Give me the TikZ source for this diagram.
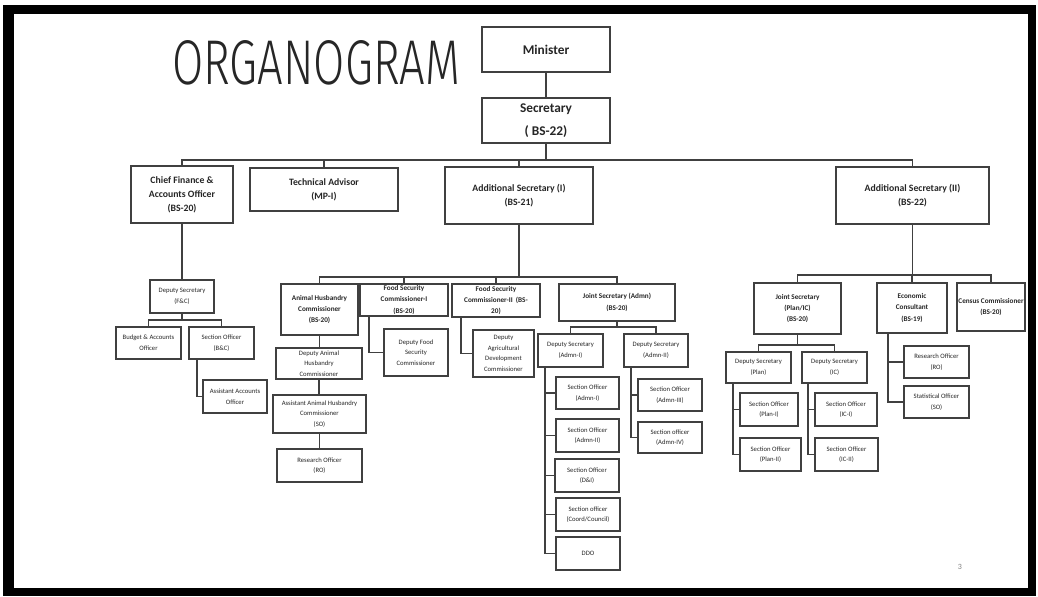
\documentclass[tikz,border=0pt]{standalone}
\usepackage{fontspec}
\setmainfont{Carlito}
\newfontfamily\titlefont{Fira Sans Light}
\usetikzlibrary{calc}
\newcommand\bx[7]{%
  \pgfmathsetmacro\bxw{(#4-#2)*0.75}%
  \pgfmathsetmacro\bxh{(#5-#3)*0.75}%
  \node[#6, minimum width=\bxw pt, minimum height=\bxh pt] (#1) at ({(#2+#4)/2},{(#3+#5)/2}) {#7};}
\begin{document}
\begin{tikzpicture}[x=0.75pt,y=-0.75pt,
  box/.style={draw=black!75, line width=1.1pt, fill=white, inner sep=0pt, outer sep=0pt, align=center, text=black!85},
  l1/.style={box, font=\fontsize{10}{17}\selectfont\bfseries},
  l2/.style={box, font=\fontsize{7.3}{10.5}\selectfont\bfseries},
  l3/.style={box, font=\fontsize{5.4}{8.5}\selectfont\bfseries},
  l4/.style={box, font=\fontsize{5}{8}\selectfont},
  con/.style={draw=black!75, line width=1.1pt}]
% frame
\fill[white] (0,0) rectangle (1038,596);
\fill[black] (3,5) rectangle (1036,596);
\fill[white] (14,14) rectangle (1028,588);
\useasboundingbox (0,0) rectangle (1038,596);
% title
\node[anchor=base west, inner sep=0pt, text=black!85] (title) at (172,84)
  {\resizebox{216pt}{33pt}{\titlefont\fontsize{40}{40}\selectfont ORGANOGRAM}};
% top
\bx{min}{482}{27}{610}{72}{l1}{Minister}
\bx{sec}{482}{98}{610}{143}{l1}{Secretary\\( BS-22)}
\bx{cfao}{131}{166}{233}{223}{l2}{Chief Finance \&\\Accounts Officer\\(BS-20)}
\bx{ta}{250}{168}{398}{211}{l2}{Technical Advisor\\(MP-I)}
\bx{as1}{445}{167}{593}{224}{l2}{Additional Secretary (I)\\(BS-21)}
\bx{as2}{836}{167}{989}{224}{l2}{Additional Secretary (II)\\(BS-22)}
% finance branch
\bx{dsfc}{150}{280}{214}{313}{l4}{Deputy Secretary\\(F\&C)}
\bx{bao}{116}{327}{181}{359}{l4}{Budget \& Accounts\\Officer}
\bx{sobc}{189}{327}{254}{359}{l4}{Section Officer\\(B\&C)}
\bx{aao}{203}{380}{267}{413}{l4}{Assistant Accounts\\Officer}
% AS(I) branch
\bx{ahc}{281}{284}{358}{335}{l3}{Animal Husbandry\\Commissioner\\(BS-20)}
\bx{dahc}{276}{348}{362}{379}{l4}{Deputy Animal\\Husbandry\\Commissioner}
\bx{aahc}{273}{395}{366}{433}{l4}{Assistant Animal Husbandry\\Commissioner\\(SO)}
\bx{ro1}{277}{449}{362}{482}{l4}{Research Officer\\(RO)}
\bx{fsc1}{360}{284}{448}{316}{l3}{Food Security\\Commissioner-I\\(BS-20)}
\bx{dfsc}{384}{329}{448}{376}{l4}{Deputy Food\\Security\\Commissioner}
\bx{fsc2}{452}{284}{540}{317}{l3}{Food Security\\Commissioner-II \ (BS-\\20)}
\bx{dadc}{473}{330}{534}{377}{l4}{Deputy\\Agricultural\\Development\\Commissioner}
\bx{jsa}{559}{284}{675}{321}{l3}{Joint Secretary (Admn)\\(BS-20)}
\bx{dsa1}{538}{334}{603}{367}{l4}{Deputy Secretary\\(Admn-I)}
\bx{dsa2}{624}{334}{688}{367}{l4}{Deputy Secretary\\(Admn-II)}
\bx{soa1}{556}{377}{619}{409}{l4}{Section Officer\\(Admn-I)}
\bx{soa2}{556}{419}{619}{452}{l4}{Section Officer\\(Admn-II)}
\bx{soa5}{555}{459}{619}{492}{l4}{Section Officer\\(D\&I)}
\bx{soa6}{556}{498}{620}{531}{l4}{Section officer\\(Coord/Council)}
\bx{ddo}{556}{537}{620}{570}{l4}{DDO}
\bx{soa3}{638}{379}{702}{411}{l4}{Section Officer\\(Admn-III)}
\bx{soa4}{638}{422}{702}{453}{l4}{Section officer\\(Admn-IV)}
% AS(II) branch
\bx{jsp}{754}{283}{841}{334}{l3}{Joint Secretary\\(Plan/IC)\\(BS-20)}
\bx{ec}{877}{283}{947}{333}{l3}{Economic\\Consultant\\(BS-19)}
\bx{cen}{957}{283}{1025}{331}{l3}{Census Commissioner\\(BS-20)}
\bx{dsp}{726}{352}{791}{383}{l4}{Deputy Secretary\\(Plan)}
\bx{dsic}{802}{352}{867}{383}{l4}{Deputy Secretary\\(IC)}
\bx{sop1}{740}{393}{798}{426}{l4}{Section Officer\\(Plan-I)}
\bx{sop2}{740}{438}{801}{471}{l4}{Section Officer\\(Plan-II)}
\bx{soic1}{815}{393}{877}{426}{l4}{Section Officer\\(IC-I)}
\bx{soic2}{815}{438}{878}{471}{l4}{Section Officer\\(IC-II)}
\bx{reo}{904}{346}{969}{378}{l4}{Research Officer\\(RO)}
\bx{sto}{904}{386}{969}{418}{l4}{Statistical Officer\\(SO)}
% page number
\node[font=\fontsize{6}{6}\selectfont, text=black!50, inner sep=0pt] (pg) at (960,567) {3};
% connectors
\coordinate (b1) at (0,160);
\coordinate (b2) at (0,320);
\coordinate (b3) at (0,277);
\coordinate (b4) at (0,327);
\coordinate (b5) at (0,275);
\coordinate (b6) at (0,345);
\draw[con] (min.south) -- (min.south |- sec.north);
\draw[con] (sec.south) -- (sec.south |- b1);
\draw[con] (cfao.north) |- (b1 -| as2.north) -- (as2.north);
\draw[con] (ta.north) -- (ta.north |- b1);
\draw[con] (as1.north) -- (as1.north |- b1);
\draw[con] (cfao.south) -- (cfao.south |- dsfc.north);
\draw[con] (dsfc.south) -- (dsfc.south |- b2);
\draw[con] (bao.north) |- (b2 -| sobc.north) -- (sobc.north);
\draw[con] ($(sobc.south west)+(8,0)$) |- (aao.west);
\draw[con] (as1.south) -- (as1.south |- b3);
\draw[con] (ahc.north) |- (b3 -| jsa.north) -- (jsa.north);
\draw[con] (fsc1.north) -- (fsc1.north |- b3);
\draw[con] (fsc2.north) -- (fsc2.north |- b3);
\draw[con] (ahc.south) -- (ahc.south |- dahc.north);
\draw[con] (dahc.south) -- (dahc.south |- aahc.north);
\draw[con] (aahc.south) -- (aahc.south |- ro1.north);
\draw[con] ($(fsc1.south west)+(9,0)$) |- (dfsc.west);
\draw[con] ($(fsc2.south west)+(9,0)$) |- (dadc.west);
\draw[con] (jsa.south) -- (jsa.south |- b4);
\draw[con] (dsa1.north) |- (b4 -| dsa2.north) -- (dsa2.north);
\foreach \c in {soa1,soa2,soa5,soa6,ddo}
  \draw[con] ($(dsa1.south west)+(7,0)$) |- (\c.west);
\foreach \c in {soa3,soa4}
  \draw[con] ($(dsa2.south west)+(7,0)$) |- (\c.west);
\draw[con] (as2.south) -- (as2.south |- b5);
\draw[con] (jsp.north) |- (b5 -| cen.north) -- (cen.north);
\draw[con] (ec.north) -- (ec.north |- b5);
\draw[con] (jsp.south) -- (jsp.south |- b6);
\draw[con] (dsp.north) |- (b6 -| dsic.north) -- (dsic.north);
\foreach \c in {sop1,sop2}
  \draw[con] ($(dsp.south west)+(7,0)$) |- (\c.west);
\foreach \c in {soic1,soic2}
  \draw[con] ($(dsic.south west)+(6,0)$) |- (\c.west);
\foreach \c in {reo,sto}
  \draw[con] ($(ec.south west)+(11,0)$) |- (\c.west);
\end{tikzpicture}
\end{document}
